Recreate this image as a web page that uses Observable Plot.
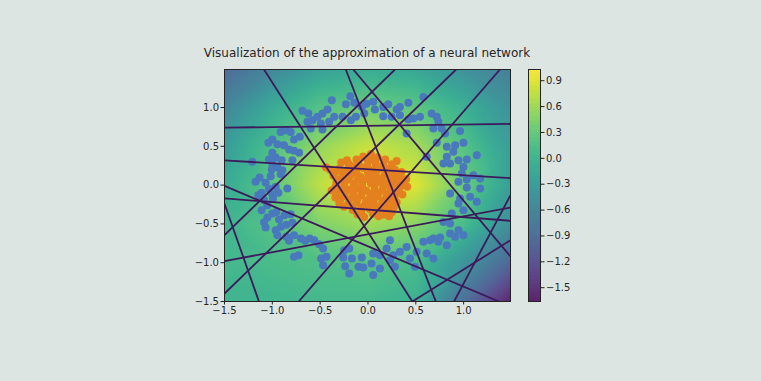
<!DOCTYPE html>
<html><head><meta charset="utf-8">
<script src="https://cdn.jsdelivr.net/npm/d3@7"></script>
<script src="https://cdn.jsdelivr.net/npm/@observablehq/plot@0.6"></script>
<style>
html,body{margin:0;padding:0;background:#dde5e3;}
#wrap{position:relative;width:761px;height:381px;overflow:hidden;font-family:"DejaVu Sans",sans-serif;}
#title{position:absolute;left:0;width:734px;top:46px;text-align:center;font-size:12px;line-height:14px;color:#262626;white-space:nowrap;}
#main{position:absolute;left:0;top:0;}
#cbar{position:absolute;left:528px;top:0;}
</style></head><body>
<div id="wrap"><div id="title">Visualization of the approximation of a neural network</div><div id="main"></div><div id="cbar"></div></div>
<script>
// ---- data ----
const xTicks = [-1.5, -1.0, -0.5, 0.0, 0.5, 1.0];
const yTicks = [-1.5, -1.0, -0.5, 0.0, 0.5, 1.0];
const cbarTicks = [-1.5, -1.2, -0.9, -0.6, -0.3, 0.0, 0.3, 0.6, 0.9];
const valueRange = [-1.66, 1.03];

// sampled network output (rows: top to bottom)
const gridX = [-1.5, -1.0, -0.5, 0.0, 0.5, 1.0, 1.5];
const gridY = [1.5, 1.0, 0.5, 0.0, -0.5, -1.0, -1.5];
const gridValues = [
  [-0.95, -0.60, -0.25, -0.12, -0.18, -0.45, -0.70],
  [-0.60, -0.12,  0.20,  0.35,  0.25, -0.05, -0.45],
  [-0.30,  0.15,  0.55,  0.80,  0.65,  0.20, -0.30],
  [-0.12,  0.25,  0.75,  1.00,  0.90,  0.35, -0.30],
  [ 0.00,  0.20,  0.45,  0.62,  0.50,  0.10, -0.50],
  [ 0.05,  0.10,  0.15,  0.20,  0.10, -0.40, -1.00],
  [ 0.00,  0.00,  0.05,  0.05, -0.05, -0.90, -1.66]
];

// hidden-unit boundary lines [x1, y1, x2, y2]
const boundaryLines = [
  [-1.5, 0.74, 1.49, 0.79],
  [-1.5, 0.32, 1.49, 0.09],
  [-1.5, -0.17, 1.49, -0.46],
  [-1.5, -0.98, 1.49, -0.29],
  [-1.5, -0.01, 1.37, -1.5],
  [-1.5, -0.24, -1.14, -1.5],
  [-1.087, 1.49, 0.464, -1.5],
  [-1.5, -0.644, 0.282, 1.49],
  [-1.5, -1.397, 0.921, 1.49],
  [-0.724, -1.5, 1.38, 1.49],
  [-0.232, 1.49, 0.709, -1.5],
  [0.90, -1.5, 1.49, -0.13],
  [0.464, -1.5, 1.49, -0.71],
  [-0.154, 1.49, 1.49, -0.92]
];

// class 0 (outer ring)
const ringPoints = [
  [-0.378,1.094],[-0.186,1.146],[-0.231,1.043],[-0.144,1.06],[-0.064,1.008],[-0.685,0.957],[-0.623,0.923],
  [-0.58,0.837],[-0.528,0.88],[-0.476,0.923],[-0.423,0.974],[-0.633,0.815],[-0.493,0.794],[-0.406,0.815],
  [-0.353,0.88],[-0.266,0.88],[-0.179,0.837],[-0.126,0.88],[-0.039,0.923],[-0.598,0.729],[-0.476,0.716],
  [-0.913,0.686],[-0.86,0.708],[-0.808,0.686],[-0.773,0.588],[-0.713,0.622],[-1.0,0.588],[-1.042,0.545],
  [-0.947,0.527],[-0.878,0.515],[-0.825,0.459],[-0.773,0.442],[-0.72,0.416],[-1.0,0.416],[-0.965,0.356],
  [-1.035,0.33],[-0.902,0.321],[-0.79,0.321],[-1.0,0.27],[-0.947,0.227],[-1.21,0.3],[-1.007,0.201],
  [-0.895,0.192],[-0.913,0.141],[-1.017,0.115],[-1.133,0.098],[-1.175,0.042],[-1.07,0.029],[-0.965,-0.022],
  [-1.035,-0.048],[-1.112,-0.1],[-0.843,-0.044],[-1.0,-0.117],[-1.147,-0.13],[-1.087,-0.194],[-0.993,-0.173],
  [-0.937,-0.1],[-1.052,-0.259],[-1.112,-0.323],[-1.0,-0.366],[-1.052,-0.418],[-0.958,-0.345],[-0.874,-0.388],
  [-0.808,-0.375],[-0.93,-0.443],[-1.087,-0.478],[-1.07,-0.546],[-0.965,-0.581],[-0.909,-0.538],[-0.853,-0.512],
  [-0.79,-0.486],[-0.947,-0.645],[-0.853,-0.667],[-0.825,-0.718],[-0.773,-0.645],[-0.7,-0.688],[-0.657,-0.718],
  [-0.609,-0.688],[-0.563,-0.71],[-0.511,-0.761],[-0.469,-0.817],[-0.49,-0.946],[-0.434,-0.924],[-0.469,-1.032],
  [-0.773,-0.924],[-0.727,-0.903],[-0.249,-0.839],[-0.196,-0.817],[-0.259,-0.933],[-0.168,-0.946],[-0.238,-1.045],
  [-0.098,-1.053],[-0.049,-1.062],[-0.196,-1.139],[-0.064,-0.933],
  [-0.015,1.05],[0.055,1.073],[0.072,0.974],[0.16,1.008],[0.212,1.043],[0.3,0.974],[0.334,1.008],[0.422,1.06],
  [0.16,0.888],[0.247,0.88],[0.334,0.901],[0.422,0.845],[0.474,0.858],[0.544,0.88],[0.579,1.137],[0.666,0.923],
  [0.719,0.88],[0.736,0.815],[0.684,0.729],[0.771,0.729],[0.806,0.665],[0.404,0.665],[0.963,0.699],[0.719,0.545],
  [0.824,0.493],[0.911,0.515],[0.998,0.545],[0.893,0.429],[0.824,0.364],[0.789,0.278],[0.614,0.364],[0.859,0.278],
  [0.946,0.321],[1.033,0.33],[0.998,0.235],[1.138,0.386],[0.981,0.15],[1.033,0.072],[1.103,0.128],[1.173,0.085],
  [0.946,0.042],[1.033,-0.031],[1.173,-0.044],[0.859,-0.108],[0.963,-0.173],[1.068,-0.151],[1.138,-0.216],
  [0.946,-0.237],[0.998,-0.323],[0.876,-0.366],[0.789,-0.474],[0.859,-0.495],[0.946,-0.581],[0.998,-0.645],
  [0.859,-0.624],[0.754,-0.675],[0.684,-0.688],[0.736,-0.731],[0.824,-0.774],[0.911,-0.667],[0.579,-0.731],
  [0.509,-0.86],[0.614,-0.882],[0.684,-0.946],[0.404,-0.796],[0.334,-0.86],[0.439,-0.946],[0.23,-0.71],
  [0.195,-0.817],[0.265,-0.903],[0.125,-0.903],[0.055,-0.882],[0.037,-1.01],[0.125,-1.075],[0.282,-1.053],
  [0.055,-1.16],[0.23,-0.967],[0.492,-1.053],[0.649,-0.71]
];

// class 1 (center blob)
const blobPoints = [
  [-0.05,0.37],[0.03,0.40],[0.10,0.36],[-0.12,0.33],[0.18,0.33],
  [-0.28,0.29],[-0.20,0.27],[-0.10,0.28],[0.00,0.30],[0.08,0.28],[0.16,0.26],[0.25,0.27],[0.30,0.31],
  [-0.40,0.20],[-0.30,0.21],[-0.22,0.19],[-0.14,0.20],[-0.05,0.22],[0.04,0.19],[0.12,0.21],[0.20,0.18],[0.28,0.20],[0.35,0.17],
  [-0.36,0.12],[-0.27,0.10],[-0.18,0.13],[-0.08,0.11],[0.01,0.13],[0.09,0.10],[0.17,0.12],[0.26,0.10],[0.33,0.12],[0.40,0.08],
  [-0.33,0.03],[-0.24,0.04],[-0.15,0.02],[-0.06,0.05],[0.03,0.02],[0.11,0.04],[0.20,0.02],[0.29,0.03],[0.37,0.00],
  [-0.38,-0.07],[-0.29,-0.05],[-0.20,-0.06],[-0.11,-0.04],[-0.02,-0.07],[0.07,-0.05],[0.15,-0.07],[0.24,-0.05],[0.32,-0.08],
  [-0.34,-0.16],[-0.25,-0.14],[-0.16,-0.15],[-0.07,-0.13],[0.02,-0.16],[0.10,-0.14],[0.19,-0.16],[0.28,-0.15],
  [-0.30,-0.23],[-0.21,-0.25],[-0.12,-0.22],[-0.03,-0.25],[0.06,-0.23],[0.14,-0.26],[0.22,-0.24],[0.30,-0.22],
  [-0.16,-0.32],[-0.07,-0.34],[0.02,-0.31],[0.10,-0.34],[0.18,-0.32],[0.25,-0.35],
  [-0.04,-0.41],[0.16,-0.38],[0.22,-0.40],
  [-0.01,0.34],[0.07,0.33],[-0.17,0.24],[-0.09,0.24],[-0.01,0.25],[0.08,0.23],[0.16,0.22],[0.24,0.23],
  [-0.34,0.17],[-0.26,0.15],[-0.12,0.16],[0.00,0.16],[0.08,0.15],[0.22,0.15],[0.30,0.15],
  [-0.30,0.07],[-0.20,0.08],[-0.11,0.07],[-0.02,0.08],[0.06,0.07],[0.15,0.07],[0.24,0.06],[0.33,0.06],
  [-0.34,-0.02],[-0.25,-0.01],[-0.15,-0.02],[-0.06,0.00],[0.07,0.00],[0.16,-0.02],[0.25,-0.01],[0.33,-0.03],
  [-0.33,-0.11],[-0.24,-0.10],[-0.15,-0.10],[-0.06,-0.09],[0.03,-0.11],[0.11,-0.10],[0.20,-0.11],[0.28,-0.10],[0.36,-0.12],
  [-0.29,-0.19],[-0.20,-0.19],[-0.11,-0.18],[-0.02,-0.20],[0.06,-0.19],[0.15,-0.20],[0.24,-0.19],
  [-0.25,-0.28],[-0.16,-0.28],[-0.07,-0.29],[0.02,-0.27],[0.10,-0.29],[0.19,-0.28],[0.27,-0.29],
  [-0.11,-0.38],[0.05,-0.37],[0.11,-0.40],[-0.44,0.23],[-0.22,0.32],[0.41,-0.02]
];

// ---- build tables ----
const grid = [];
gridY.forEach((y, i) => gridX.forEach((x, j) => grid.push({x, y, v: gridValues[i][j]})));
const lines = boundaryLines.map(([x1, y1, x2, y2]) => ({x1, y1, x2, y2}));
const ring = ringPoints.map(([x, y]) => ({x, y}));
const blob = blobPoints.map(([x, y]) => ({x, y}));

const fmt = d3.format(".1f");
const font = "'DejaVu Sans', sans-serif";
const colorOpts = {type: "linear", scheme: "viridis", domain: valueRange};

const main = Plot.plot({
  width: 530, height: 330,
  marginLeft: 224, marginRight: 20, marginTop: 69, marginBottom: 29,
  style: {background: "transparent", fontSize: "10px", fontFamily: font, color: "#262626"},
  x: {domain: [-1.5, 1.49], label: null},
  y: {domain: [-1.5, 1.49], label: null},
  color: colorOpts,
  marks: [
    Plot.raster(grid, {x: "x", y: "y", fill: "v", interpolate: "barycentric",
      x1: -1.5, x2: 1.49, y1: -1.5, y2: 1.49, pixelSize: 1, opacity: 0.85}),
    Plot.dot(ring, {x: "x", y: "y", r: 4, fill: "#4a78bd", stroke: "none"}),
    Plot.dot(blob, {x: "x", y: "y", r: 4, fill: "#e4801f", stroke: "none"}),
    Plot.link(lines, {x1: "x1", y1: "y1", x2: "x2", y2: "y2", stroke: "#3d1a5c", strokeWidth: 1.8, clip: true}),
    Plot.frame({stroke: "#222", strokeWidth: 1}),
    Plot.axisX({ticks: xTicks, tickFormat: fmt, tickSize: 3.5, tickPadding: 2, label: null, stroke: "#222"}),
    Plot.axisY({ticks: yTicks, tickFormat: fmt, tickSize: 3.5, tickPadding: 2, label: null, stroke: "#222"})
  ]
});
document.getElementById("main").appendChild(main);

// colorbar: discrete level samples drawn as a raster
const step = 0.05;
const levels = [];
d3.range(valueRange[0], valueRange[1], step).forEach(v => {
  levels.push({x: 0, y: v + step / 2, v: v + step / 2});
  levels.push({x: 1, y: v + step / 2, v: v + step / 2});
});
const cbar = Plot.plot({
  width: 52, height: 330,
  marginLeft: 0, marginRight: 40, marginTop: 69, marginBottom: 29,
  style: {background: "transparent", fontSize: "10px", fontFamily: font, color: "#262626"},
  x: {domain: [0, 1], axis: null},
  y: {domain: valueRange, label: null},
  color: colorOpts,
  marks: [
    Plot.raster(levels, {x: "x", y: "y", fill: "v", interpolate: "nearest",
      x1: 0, x2: 1, y1: valueRange[0], y2: valueRange[1], pixelSize: 1, opacity: 0.85}),
    Plot.frame({stroke: "#222"}),
    Plot.axisY({anchor: "right", ticks: cbarTicks, tickFormat: fmt, tickSize: 3.5, tickPadding: 2, label: null, stroke: "#222"})
  ]
});
document.getElementById("cbar").appendChild(cbar);
</script>
</body></html>
